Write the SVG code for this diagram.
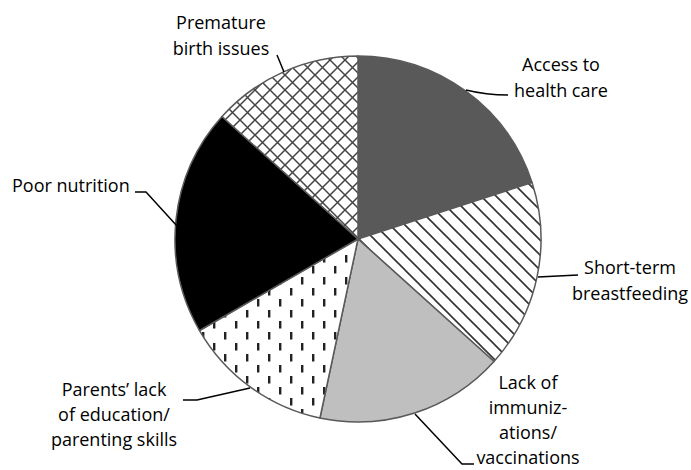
<svg xmlns="http://www.w3.org/2000/svg" width="691" height="470" viewBox="0 0 691 470">
<style>
.slice{stroke:#595959;stroke-width:1.5;stroke-linejoin:round}
.lbl{font-family:"Open Sans","Liberation Sans",sans-serif;font-size:18px;fill:#000}
.ctr{text-anchor:middle}
.lead{fill:none;stroke:#000;stroke-width:1.5}
</style>
<defs>
<pattern id="diag" width="15" height="15" patternUnits="userSpaceOnUse">
<rect width="15" height="15" fill="#fff"/>
<path d="M0,0 L15,15 M-2,13 L2,17 M13,-2 L17,2" stroke="#333" stroke-width="1.6"/>
</pattern>
<pattern id="cross" width="15" height="15" patternUnits="userSpaceOnUse">
<rect width="15" height="15" fill="#fff"/>
<path d="M0,0 L15,15 M15,0 L0,15" stroke="#444" stroke-width="1.5"/>
</pattern>
<pattern id="dash" width="22" height="22" patternUnits="userSpaceOnUse">
<rect width="22" height="22" fill="#fff"/>
<rect x="4" y="2" width="2.4" height="7.5" fill="#222"/>
<rect x="15" y="13" width="2.4" height="7.5" fill="#222"/>
</pattern>
</defs>
<g id="access">
<path class="slice" fill="#595959" d="M358,239 L358,56 A183,183 0 0 1 532.04,182.45 Z"/>
<text class="lbl ctr" x="561" y="71">Access to</text>
<text class="lbl ctr" x="561" y="97">health care</text>
</g>
<g id="breastfeeding">
<path class="slice" fill="url(#diag)" d="M358,239 L532.04,182.45 A183,183 0 0 1 493.99,361.45 Z"/>
<text class="lbl ctr" x="630" y="274">Short-term</text>
<text class="lbl ctr" x="630" y="300">breastfeeding</text>
</g>
<g id="immunizations">
<path class="slice" fill="#bfbfbf" d="M358,239 L493.99,361.45 A183,183 0 0 1 319.95,418 Z"/>
<text class="lbl ctr" x="528" y="389">Lack of</text>
<text class="lbl ctr" x="528" y="414">immuniz-</text>
<text class="lbl ctr" x="528" y="439">ations/</text>
<text class="lbl ctr" x="528" y="464">vaccinations</text>
</g>
<g id="education">
<path class="slice" fill="url(#dash)" d="M358,239 L319.95,418 A183,183 0 0 1 199.52,330.5 Z"/>
<text class="lbl ctr" x="114" y="396">Parents’ lack</text>
<text class="lbl ctr" x="114" y="421">of education/</text>
<text class="lbl ctr" x="114" y="446">parenting skills</text>
</g>
<g id="nutrition">
<path class="slice" fill="#000" d="M358,239 L199.52,330.5 A183,183 0 0 1 222.01,116.55 Z"/>
<text class="lbl" x="12" y="192">Poor nutrition</text>
</g>
<g id="premature">
<path class="slice" fill="url(#cross)" d="M358,239 L222.01,116.55 A183,183 0 0 1 358,56 Z"/>
<text class="lbl ctr" x="221" y="29">Premature</text>
<text class="lbl ctr" x="221" y="55">birth issues</text>
</g>
<g id="connectors">
<path class="lead" d="M466,90 Q486,95 508,95"/>
<path class="lead" d="M538,277 L578,275"/>
<path class="lead" d="M415,414 L462,464 L474,464"/>
<path class="lead" d="M250,388 L197,400 L183,400"/>
<path class="lead" d="M135,192 L146,192 L177,226"/>
<path class="lead" d="M284,72 L277,55"/>
</g>
</svg>
